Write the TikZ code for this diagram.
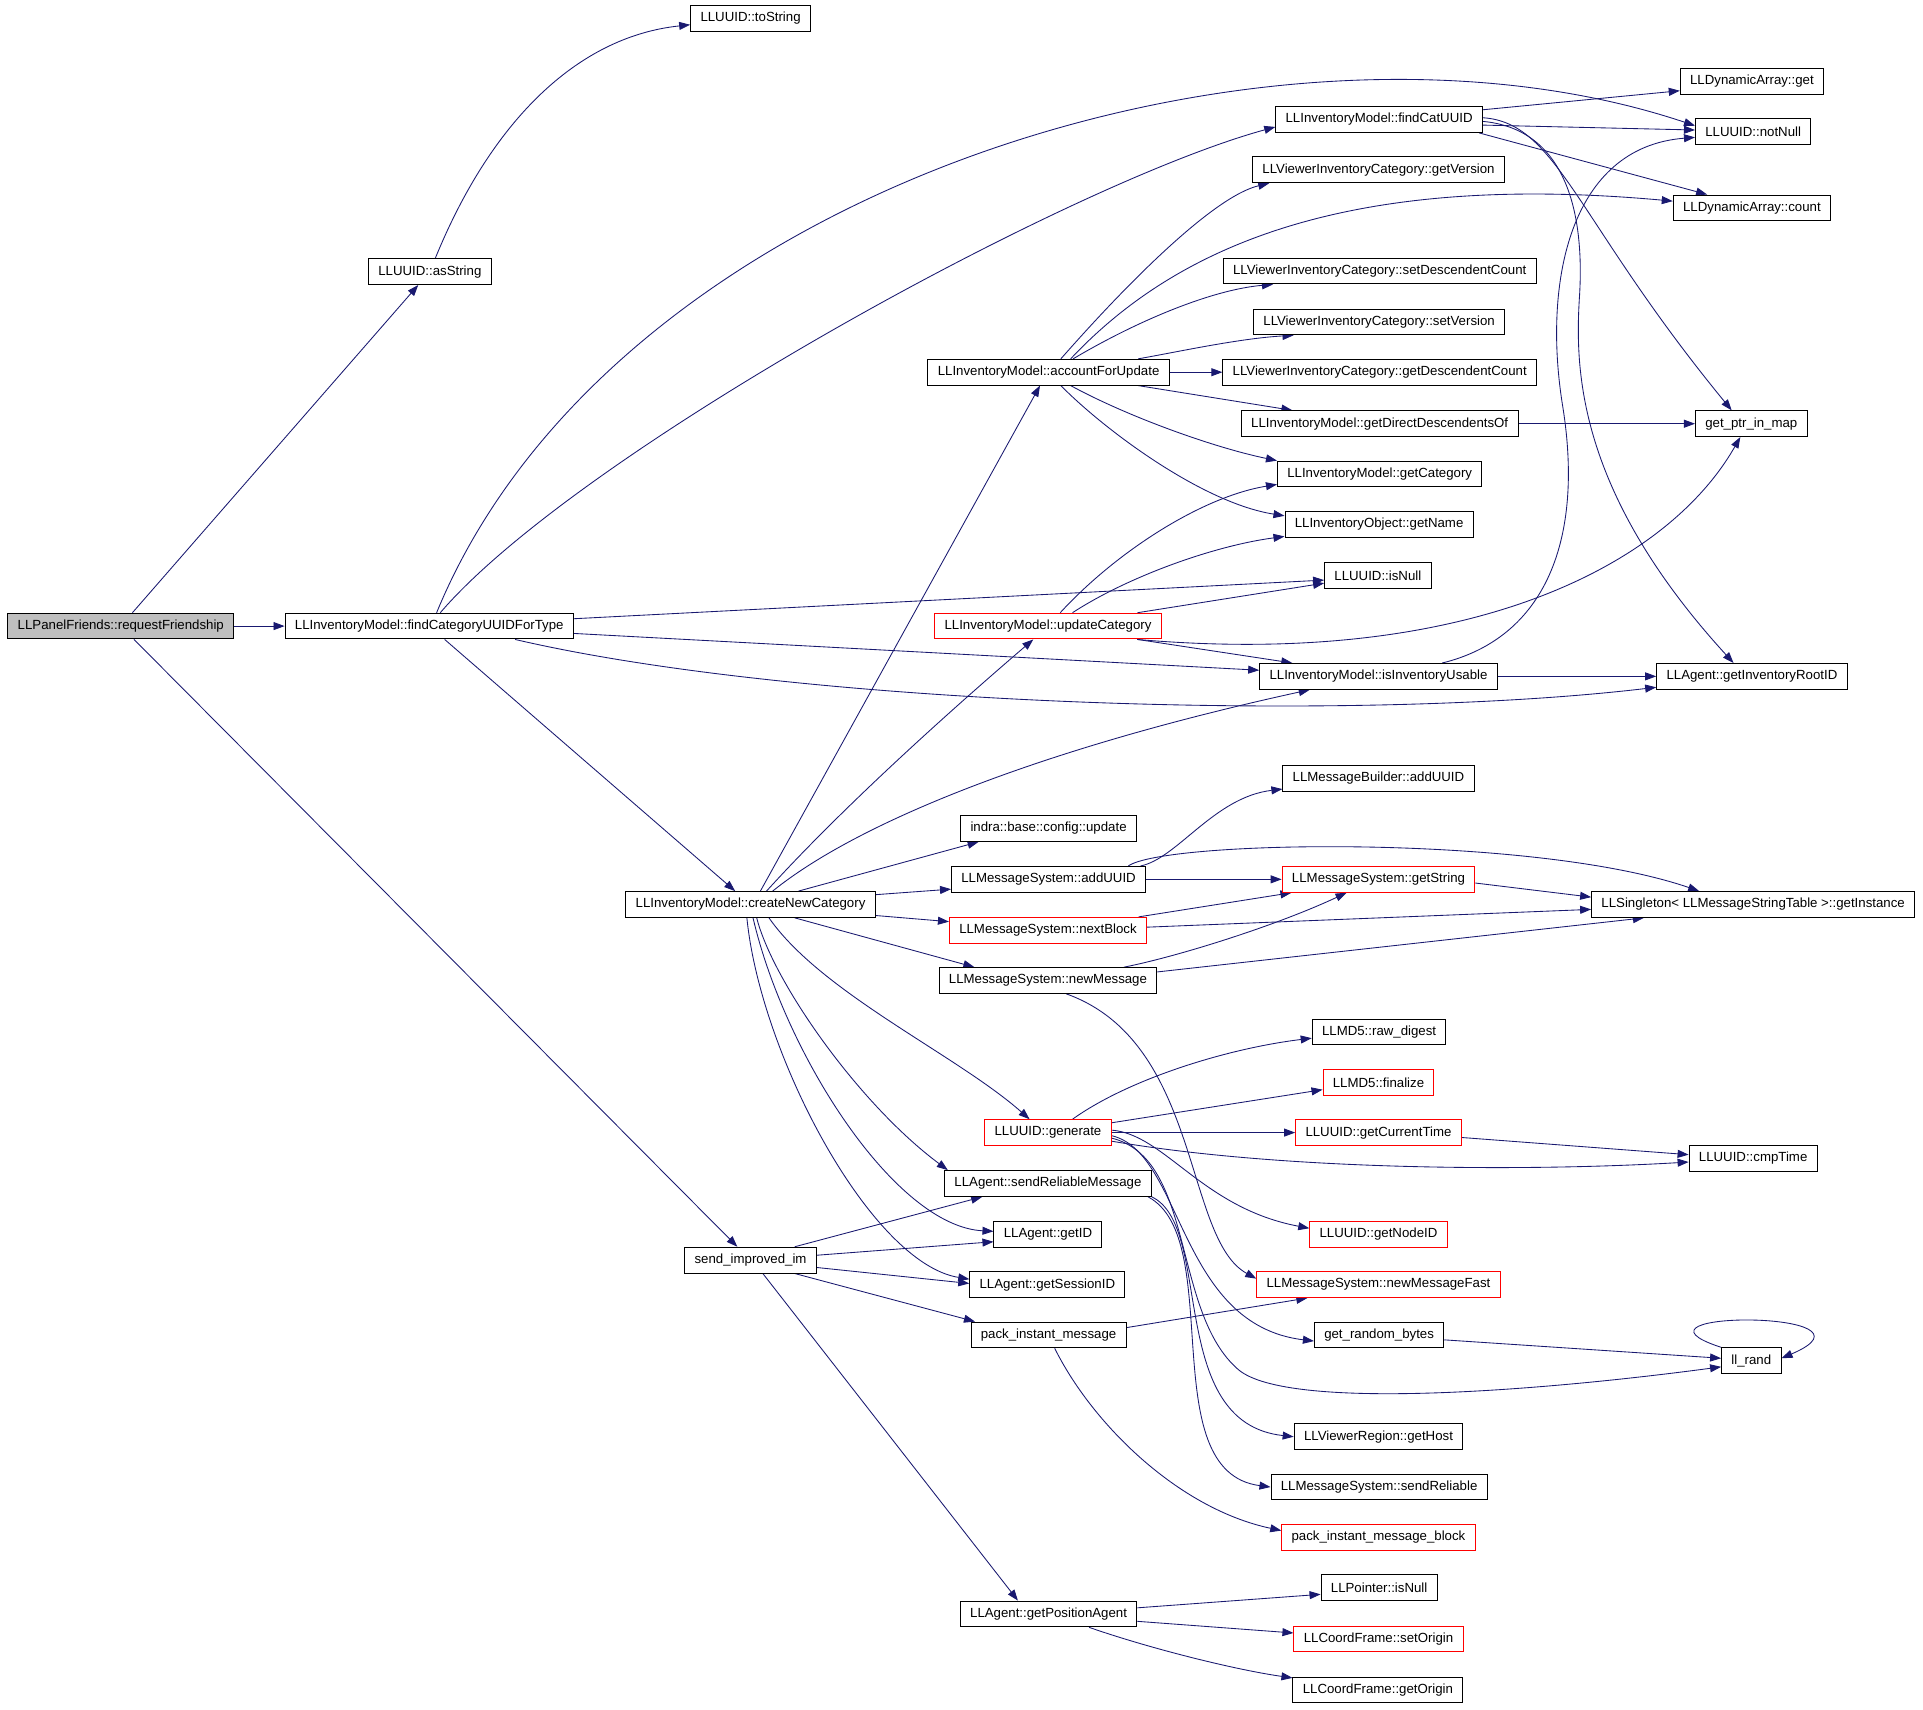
\documentclass[tikz,border=0pt]{standalone}
\usepackage{fontspec}
\setmainfont{Liberation Sans}
\usetikzlibrary{arrows.meta}
\usetikzlibrary{backgrounds}
\definecolor{edgeColor}{HTML}{191970}
\colorlet{truncColor}{red}
\colorlet{rootFill}{black!25}
\tikzset{
  fn/.style={draw=black, line width=0.8pt, fill=white, minimum height=21pt,
    inner xsep=8pt, inner ysep=0pt, font=\fontsize{10.8}{12}\selectfont},
  fnTrunc/.style={fn, draw=truncColor},
  fnRoot/.style={fn, fill=rootFill},
  call/.style={draw=edgeColor, line width=0.7pt, -{Triangle[length=9pt,width=6.5pt]}},
}

\begin{document}
\begin{tikzpicture}[x=1pt,y=-1pt]
  \node[fnRoot] (reqFriend) at (98.5,510.5) {LLPanelFriends::requestFriendship};
  \node[fn] (asString) at (350.5,221.5) {LLUUID::asString};
  \node[fn] (toString) at (612,15) {LLUUID::toString};
  \node[fn] (findType) at (350,510.5) {LLInventoryModel::findCategoryUUIDForType};
  \node[fn] (findCat) at (1124.5,97.5) {LLInventoryModel::findCatUUID};
  \node[fn] (arrGet) at (1428.5,66.5) {LLDynamicArray::get};
  \node[fn] (notNull) at (1429.5,107.5) {LLUUID::notNull};
  \node[fn] (getVersion) at (1124,138.5) {LLViewerInventoryCategory::getVersion};
  \node[fn] (arrCount) at (1428.5,169.5) {LLDynamicArray::count};
  \node[fn] (setDescCount) at (1125,221) {LLViewerInventoryCategory::setDescendentCount};
  \node[fn] (setVersion) at (1124.5,262.5) {LLViewerInventoryCategory::setVersion};
  \node[fn] (accountUpd) at (855,303.5) {LLInventoryModel::accountForUpdate};
  \node[fn] (getDescCount) at (1125,303.5) {LLViewerInventoryCategory::getDescendentCount};
  \node[fn] (directDesc) at (1125,345.5) {LLInventoryModel::getDirectDescendentsOf};
  \node[fn] (ptrInMap) at (1428,345.5) {get\_ptr\_in\_map};
  \node[fn] (getCategory) at (1125,386.5) {LLInventoryModel::getCategory};
  \node[fn] (getName) at (1124.5,427.5) {LLInventoryObject::getName};
  \node[fn] (isNull) at (1123.5,469.5) {LLUUID::isNull};
  \node[fnTrunc] (updateCat) at (854.5,510.5) {LLInventoryModel::updateCategory};
  \node[fn] (invUsable) at (1124,551.5) {LLInventoryModel::isInventoryUsable};
  \node[fn] (rootID) at (1428.5,551.5) {LLAgent::getInventoryRootID};
  \node[fn] (builderUUID) at (1124,634.5) {LLMessageBuilder::addUUID};
  \node[fn] (cfgUpdate) at (855,675.5) {indra::base::config::update};
  \node[fn] (msgUUID) at (855,717) {LLMessageSystem::addUUID};
  \node[fnTrunc] (getString) at (1124,717) {LLMessageSystem::getString};
  \node[fn] (getInstance) at (1429.5,737.5) {LLSingleton< LLMessageStringTable >::getInstance};
  \node[fn] (newCat) at (612,737.5) {LLInventoryModel::createNewCategory};
  \node[fnTrunc] (nextBlock) at (854.5,758.5) {LLMessageSystem::nextBlock};
  \node[fn] (newMessage) at (854.5,799.5) {LLMessageSystem::newMessage};
  \node[fn] (rawDigest) at (1124.5,841.5) {LLMD5::raw\_digest};
  \node[fnTrunc] (finalize) at (1124,882.5) {LLMD5::finalize};
  \node[fnTrunc] (generate) at (854.5,923.5) {LLUUID::generate};
  \node[fnTrunc] (curTime) at (1124,923.5) {LLUUID::getCurrentTime};
  \node[fn] (cmpTime) at (1429.5,944.5) {LLUUID::cmpTime};
  \node[fn] (sendRelMsg) at (854.5,965) {LLAgent::sendReliableMessage};
  \node[fn] (agentID) at (854.5,1006.5) {LLAgent::getID};
  \node[fnTrunc] (nodeID) at (1124,1006.5) {LLUUID::getNodeID};
  \node[fn] (sendIM) at (612,1027.5) {send\_improved\_im};
  \node[fn] (sessionID) at (854,1047.5) {LLAgent::getSessionID};
  \node[fnTrunc] (newMsgFast) at (1124,1047.5) {LLMessageSystem::newMessageFast};
  \node[fn] (randBytes) at (1124.5,1088.5) {get\_random\_bytes};
  \node[fn] (packIM) at (855,1088.5) {pack\_instant\_message};
  \node[fn] (llRand) at (1428,1109.5) {ll\_rand};
  \node[fn] (getHost) at (1124,1171.5) {LLViewerRegion::getHost};
  \node[fn] (sendRel) at (1124.5,1212.5) {LLMessageSystem::sendReliable};
  \node[fnTrunc] (packBlock) at (1124,1253.5) {pack\_instant\_message\_block};
  \node[fn] (ptrIsNull) at (1124.5,1294.5) {LLPointer::isNull};
  \node[fn] (posAgent) at (855,1316) {LLAgent::getPositionAgent};
  \node[fnTrunc] (setOrigin) at (1124,1336.5) {LLCoordFrame::setOrigin};
  \node[fn] (getOrigin) at (1123.5,1378) {LLCoordFrame::getOrigin};

  \begin{pgfonlayer}{background}
    \path[use as bounding box, fill=white] (0,0) rectangle (1568,1394);
    % requestFriendship
    \draw[call] (reqFriend) -- (asString);
    \draw[call] (reqFriend) -- (findType);
    \draw[call] (reqFriend) -- (sendIM);
    \draw[call] (asString) .. controls (400,100) and (470,30) .. (toString);
    % findCategoryUUIDForType
    \draw[call] ([xshift=9pt]findType.north) .. controls (470,370) and (870,150) .. ([yshift=-6pt]findCat.west);
    \draw[call] ([xshift=6pt]findType.north) .. controls (500,150) and (1040,-12) .. ([yshift=5pt]notNull.west);
    \draw[call] ([yshift=6pt]findType.east) -- ([yshift=-3.5pt]isNull.west);
    \draw[call] ([yshift=-6pt]findType.east) -- ([yshift=5pt]invUsable.west);
    \draw[call] ([xshift=70pt]findType.south) .. controls (650,575) and (1100,590) .. ([yshift=2pt]rootID.south west);
    \draw[call] (findType) -- (newCat);
    % findCatUUID
    \draw[call] ([yshift=8pt]findCat.east) -- ([yshift=-7.5pt]arrGet.west);
    \draw[call] ([yshift=-4.5pt]findCat.east) -- ([yshift=1.5pt]notNull.west);
    \draw[call] ([xshift=-3pt]findCat.south east) -- ([xshift=28pt]arrCount.north west);
    \draw[call] ([yshift=1.5pt]findCat.east) .. controls (1270,100) and (1285,180) .. ([xshift=-16pt]ptrInMap.north);
    \draw[call] ([yshift=-1.5pt]findCat.east) .. controls (1275,105) and (1292,170) .. (1288,240)
      .. controls (1284,300) and (1285,400) .. ([xshift=-15pt]rootID.north);
    % accountForUpdate
    \draw[call] ([xshift=10pt]accountUpd.north) .. controls (920,230) and (990,160) .. ([xshift=14pt]getVersion.south west);
    \draw[call] ([xshift=18pt]accountUpd.north) .. controls (960,200) and (1100,140) .. ([yshift=5.5pt]arrCount.west);
    \draw[call] ([xshift=20pt]accountUpd.north) .. controls (930,260) and (990,236) .. ([xshift=41pt]setDescCount.south west);
    \draw[call] ([xshift=73pt]accountUpd.north) .. controls (960,287) and (1010,276) .. ([xshift=33pt]setVersion.south west);
    \draw[call] (accountUpd) -- (getDescCount);
    \draw[call] ([xshift=73pt]accountUpd.south) -- ([xshift=42pt]directDesc.north west);
    \draw[call] ([xshift=18pt]accountUpd.south) .. controls (920,340) and (990,365) .. (getCategory.north west);
    \draw[call] ([xshift=10pt]accountUpd.south) .. controls (900,350) and (980,410) .. ([yshift=-4pt]getName.north west);
    % updateCategory
    \draw[call] ([xshift=10pt]updateCat.north) .. controls (910,450) and (980,405) .. ([yshift=-8.5pt]getCategory.west);
    \draw[call] ([xshift=20pt]updateCat.north) .. controls (920,470) and (990,445) .. ([yshift=1pt]getName.south west);
    \draw[call] ([xshift=73pt]updateCat.north) -- ([yshift=-6pt]isNull.west);
    \draw[call] ([xshift=73pt]updateCat.south) -- ([xshift=27pt]invUsable.north west);
    \draw[call] ([xshift=-20pt]updateCat.south east) .. controls (1200,545) and (1360,460) .. ([xshift=-9pt]ptrInMap.south);
    % isInventoryUsable, getDirectDescendentsOf
    \draw[call] ([xshift=52pt]invUsable.north) .. controls (1260,520) and (1292,440) .. (1274,330)
      .. controls (1258,230) and (1280,120) .. ([yshift=-4.5pt]notNull.west);
    \draw[call] (invUsable) -- (rootID);
    \draw[call] (directDesc) -- (ptrInMap);
    % createNewCategory
    \draw[call] ([xshift=8pt]newCat.north) -- ([xshift=-7pt]accountUpd.south);
    \draw[call] ([xshift=13pt]newCat.north) .. controls (690,655) and (780,575) .. ([xshift=-12pt]updateCat.south);
    \draw[call] ([xshift=18pt]newCat.north) .. controls (700,670) and (850,610) .. ([xshift=-56pt]invUsable.south);
    \draw[call] ([xshift=39pt]newCat.north) -- ([xshift=-57pt]cfgUpdate.south);
    \draw[call] ([yshift=8pt]newCat.east) -- ([yshift=-8pt]msgUUID.west);
    \draw[call] ([yshift=-9pt]newCat.east) -- ([yshift=7pt]nextBlock.west);
    \draw[call] ([xshift=36pt]newCat.south) -- ([xshift=-60pt]newMessage.north);
    \draw[call] ([xshift=15pt]newCat.south) .. controls (670,810) and (780,860) .. ([xshift=-15pt]generate.north);
    \draw[call] ([xshift=5pt]newCat.south) .. controls (630,800) and (700,900) .. ([xshift=3pt]sendRelMsg.north west);
    \draw[call] ([xshift=2pt]newCat.south) .. controls (640,860) and (730,1000) .. ([yshift=2.5pt]agentID.west);
    \draw[call] ([xshift=-3pt]newCat.south) .. controls (620,860) and (710,1030) .. ([yshift=4.5pt]sessionID.west);
    % send_improved_im
    \draw[call] ([xshift=36pt]sendIM.north) -- ([xshift=31pt]sendRelMsg.south west);
    \draw[call] ([yshift=4pt]sendIM.east) -- ([yshift=-6pt]agentID.west);
    \draw[call] ([yshift=-6pt]sendIM.east) -- ([yshift=1pt]sessionID.west);
    \draw[call] ([xshift=36pt]sendIM.south) -- ([xshift=-60pt]packIM.north);
    \draw[call] ([xshift=10pt]sendIM.south) -- ([xshift=-25pt]posAgent.north);
    % message system
    \draw[call] ([xshift=75pt]msgUUID.north) .. controls (960,700) and (990,650) .. ([yshift=2pt]builderUUID.south west);
    \draw[call] (msgUUID) -- (getString);
    \draw[call] ([xshift=65pt]msgUUID.north) .. controls (950,685) and (1250,680) .. ([xshift=-44pt]getInstance.north);
    \draw[call] ([yshift=-3pt]getString.east) -- ([yshift=6pt]getInstance.west);
    \draw[call] ([xshift=74pt]nextBlock.north) -- ([xshift=8pt]getString.south west);
    \draw[call] ([yshift=2.5pt]nextBlock.east) -- ([yshift=-4pt]getInstance.west);
    \draw[call] ([xshift=62pt]newMessage.north) .. controls (960,780) and (1040,755) .. ([xshift=-26pt]getString.south);
    \draw[call] ([yshift=7pt]newMessage.east) -- ([xshift=-89pt]getInstance.south);
    \draw[call] ([xshift=15pt]newMessage.south) .. controls (980,850) and (965,1010) .. ([yshift=-6pt]newMsgFast.north west);
    % LLUUID::generate
    \draw[call] ([xshift=20pt]generate.north) .. controls (920,880) and (1000,855) .. ([yshift=-5pt]rawDigest.west);
    \draw[call] ([yshift=8pt]generate.east) -- ([yshift=-6pt]finalize.west);
    \draw[call] (generate) -- (curTime);
    \draw[call] ([yshift=-7pt]generate.east) .. controls (1050,955) and (1250,955) .. ([yshift=-3pt]cmpTime.west);
    \draw[call] ([yshift=2pt]generate.east) .. controls (950,925) and (980,985) .. ([yshift=5pt]nodeID.west);
    \draw[call] ([yshift=-2.5pt]generate.east) .. controls (965,940) and (960,1080) .. ([yshift=-5pt]randBytes.west);
    \draw[call] ([yshift=-4.5pt]generate.east) .. controls (975,945) and (955,1070) .. (1010,1117)
      .. controls (1050,1150) and (1250,1135) .. ([yshift=-5pt]llRand.west);
    \draw[call] ([yshift=-4pt]curTime.east) -- ([yshift=3pt]cmpTime.west);
    \draw[call] ([yshift=-4pt]randBytes.east) -- ([yshift=2pt]llRand.west);
    \draw[call] (llRand.north west) .. controls (1310,1068) and (1545,1068) .. ([yshift=2pt]llRand.east);% self call
    % sendReliableMessage, pack_instant_message
    \draw[call] (sendRelMsg.south east) .. controls (990,1000) and (950,1160) .. (getHost.west);
    \draw[call] ([xshift=-3pt]sendRelMsg.south east) .. controls (1000,1010) and (940,1200) .. (sendRel.west);
    \draw[call] ([yshift=6pt]packIM.east) -- ([xshift=-58pt]newMsgFast.south);
    \draw[call] ([xshift=5pt]packIM.south) .. controls (890,1160) and (960,1230) .. ([yshift=5.5pt]packBlock.west);
    % getPositionAgent
    \draw[call] ([yshift=5pt]posAgent.east) -- ([yshift=-5.5pt]ptrIsNull.west);
    \draw[call] ([yshift=-6pt]posAgent.east) -- ([yshift=5pt]setOrigin.west);
    \draw[call] ([xshift=33pt]posAgent.south) .. controls (940,1345) and (1010,1362) .. ([yshift=-1pt]getOrigin.north west);
  \end{pgfonlayer}
\end{tikzpicture}
\end{document}
